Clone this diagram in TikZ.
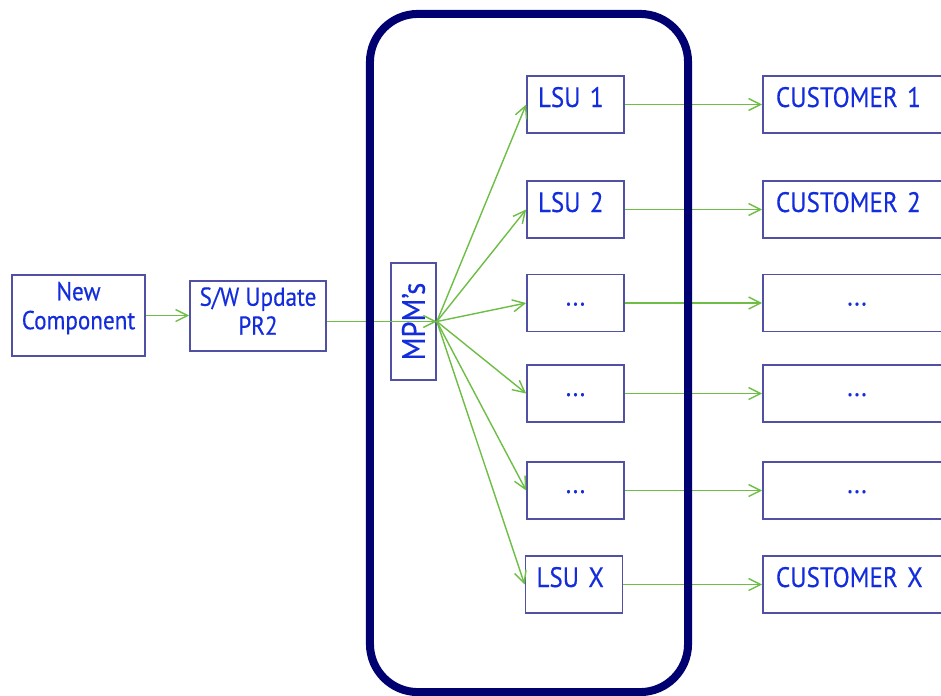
\documentclass[tikz,border=0pt]{standalone}
\usepackage{fontspec}
\setmainfont{PT Sans}[FakeStretch=0.89, FakeBold=0.4]
\usetikzlibrary{arrows.meta}

\definecolor{boxline}{RGB}{80,80,165}
\definecolor{labelblue}{RGB}{20,45,220}
\definecolor{linkgreen}{RGB}{110,190,70}
\definecolor{zonenavy}{RGB}{0,0,112}

\begin{document}
\begin{tikzpicture}[x=0.025cm, y=-0.025cm,
    box/.style={draw=boxline, line width=1.2pt, text=labelblue, font=\fontsize{18.5}{20.6}\selectfont, align=center},
    unit/.style={draw=boxline, line width=1.2pt, text=labelblue, font=\fontsize{20}{24}\selectfont,
        inner ysep=0pt, text height=0.775cm, text depth=0.65cm, align=left},
    lsu/.style={unit, inner xsep=0.275cm, text width=1.875cm},
    client/.style={unit, inner xsep=0.325cm, text width=4.05cm},
    link/.style={draw=linkgreen, line width=1pt, -{Straight Barb[length=0.3cm,width=0.3cm]}}]
        \useasboundingbox (0,0) rectangle (941,696);

        \node[box, text depth=0.5cm, minimum width=3.325cm, minimum height=2.025cm](newcomp) at (78.5,315.5) {New\\Component};
        \node[box, text depth=0.25cm, minimum width=3.4cm, minimum height=1.75cm](swupdate) at (258,316) {S/W Update\\PR2};
        \node[box, rotate=90, font=\fontsize{23}{24}\selectfont, minimum width=2.925cm, minimum height=1.125cm](mpm) at (413.5,321.5) {MPM’s};

        \node[lsu](lsu1) at (575.5,104.5) {LSU 1};
        \node[lsu](lsu2) at (575.5,209.5) {LSU 2};
        \node[lsu, align=center](lsu3) at (575.5,303) {...};
        \node[lsu, align=center](lsu4) at (575.5,393.5) {...};
        \node[lsu, align=center](lsu5) at (575.5,490.5) {...};
        \node[lsu](lsux) at (574,584.5) {LSU X};

        \node[client](cust1) at (857,104.5) {CUSTOMER 1};
        \node[client](cust2) at (857,209.5) {CUSTOMER 2};
        \node[client, align=center](cust3) at (857,303) {...};
        \node[client, align=center](cust4) at (857,393.5) {...};
        \node[client, align=center](cust5) at (857,490.5) {...};
        \node[client](custx) at (857,584.5) {CUSTOMER X};

        \draw[link] (newcomp) -- (swupdate.west |- newcomp);
        \draw[link] (swupdate.east |- mpm.south) -- (mpm.south);

        \draw[link] (mpm.south) -- (lsu1.west);
        \draw[link] (mpm.south) -- (lsu2.west);
        \draw[link] (mpm.south) -- (lsu3.west);
        \draw[link] (mpm.south) -- (lsu4.west);
        \draw[link] (mpm.south) -- (lsu5.west);
        \draw[link] (mpm.south) -- (lsux.west);

        \draw[link] (lsu1) -- (cust1);
        \draw[link] (lsu2) -- (cust2);
        \draw[link] (lsu3) -- (cust3);
        \draw[link] (lsu4) -- (cust4);
        \draw[link] (lsu5) -- (cust5);
        \draw[link] (lsux) -- (custx);

        % frame round the MPM's and the LSUs
        \node[draw=zonenavy, line width=0.2cm, rounded corners=1.2cm, inner sep=0pt,
            minimum width=7.95cm, minimum height=16.95cm](zone) at (529,353) {};
    \end{tikzpicture}
\end{document}
